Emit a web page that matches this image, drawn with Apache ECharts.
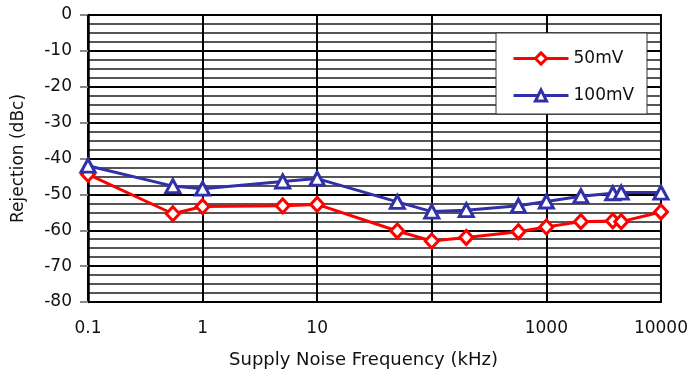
<!DOCTYPE html>
<html>
<head>
<meta charset="utf-8">
<script src="https://cdn.jsdelivr.net/npm/echarts@6/dist/echarts.min.js"></script>
<style>html,body{margin:0;padding:0;background:#fff}#c{width:691px;height:374px}</style>
</head>
<body>
<div id="c"></div>
<script>
const freqKHz = [0.1, 0.55, 1, 5, 10, 50, 100, 200, 570, 1000, 2000, 3800, 4500, 10000];
const rej50mV = [-44.4, -55.4, -53.4, -53.2, -52.8, -60.2, -63.0, -62.0, -60.4, -59.1, -57.6, -57.4, -57.6, -54.9];
const rej100mV = [-42.0, -47.7, -48.4, -46.4, -45.6, -52.1, -54.8, -54.4, -53.2, -52.0, -50.5, -49.7, -49.5, -49.5];
const xTickLabels = ['0.1', '1', '10', '', '1000', '10000'];
const seriesNames = ['50mV', '100mV'];

const FONT = 'DejaVu Sans';
const chart = echarts.init(document.getElementById('c'), null, {renderer: 'canvas'});
chart.setOption({
  animation: false,
  backgroundColor: '#fff',
  grid: {left: 88, right: 30, top: 15, bottom: 70, show: true, borderColor: '#000', borderWidth: 2},
  xAxis: {
    type: 'log', logBase: 10, min: 0.1, max: 10000,
    name: 'Supply Noise Frequency (kHz)', nameLocation: 'middle', nameGap: 49,
    nameTextStyle: {fontFamily: FONT, fontSize: 18, color: '#111', padding: [0, 22, 0, 0]},
    axisLine: {lineStyle: {color: '#000', width: 2}},
    axisTick: {show: true, length: 8, lineStyle: {color: '#000', width: 2}},
    axisLabel: {
      fontFamily: FONT, fontSize: 17, color: '#111', margin: 18,
      formatter: v => xTickLabels[Math.round(Math.log10(v)) + 1] || ''
    },
    splitLine: {show: true, lineStyle: {color: '#000', width: 2}},
    minorTick: {show: false}, minorSplitLine: {show: false}
  },
  yAxis: {
    type: 'value', min: -80, max: 0, interval: 10,
    name: 'Rejection (dBc)', nameLocation: 'middle', nameGap: 61, nameRotate: 90,
    nameTextStyle: {fontFamily: FONT, fontSize: 17, color: '#111'},
    axisLine: {show: true, lineStyle: {color: '#000', width: 2.5}},
    axisTick: {show: true, length: 8, lineStyle: {color: '#888', width: 2}},
    axisLabel: {fontFamily: FONT, fontSize: 17, color: '#111', margin: 16},
    splitLine: {show: true, lineStyle: {color: '#000', width: 2}},
    minorTick: {show: false, splitNumber: 4},
    minorSplitLine: {show: true, lineStyle: {color: '#555', width: 2}}
  },
  legend: {
    orient: 'vertical', left: 496, top: 33, padding: [17, 10, 15, 16],
    itemWidth: 55, itemHeight: 14, itemGap: 20, z: 10,
    lineStyle: {width: 3},
    itemStyle: {borderWidth: 3},
    textStyle: {fontFamily: FONT, fontSize: 17, color: '#111', padding: [0, 0, 0, 0]},
    data: seriesNames
  },
  graphic: [{
    type: 'rect', left: 495.5, top: 32.5, z: 5,
    shape: {width: 151, height: 81},
    style: {fill: '#fff', stroke: '#333', lineWidth: 1}
  }],
  series: [
    {
      name: seriesNames[0], type: 'line', z: 3,
      data: freqKHz.map((f, i) => [f, rej50mV[i]]),
      lineStyle: {color: '#ff0000', width: 3},
      itemStyle: {color: '#fff', borderColor: '#ff0000', borderWidth: 3},
      symbol: 'diamond', symbolSize: [13, 14], showAllSymbol: true
    },
    {
      name: seriesNames[1], type: 'line', z: 4,
      data: freqKHz.map((f, i) => [f, rej100mV[i]]),
      lineStyle: {color: '#3030a8', width: 3},
      itemStyle: {color: '#fff', borderColor: '#3030a8', borderWidth: 3},
      symbol: 'triangle', symbolSize: [14, 13], showAllSymbol: true
    }
  ]
});
</script>
</body>
</html>
